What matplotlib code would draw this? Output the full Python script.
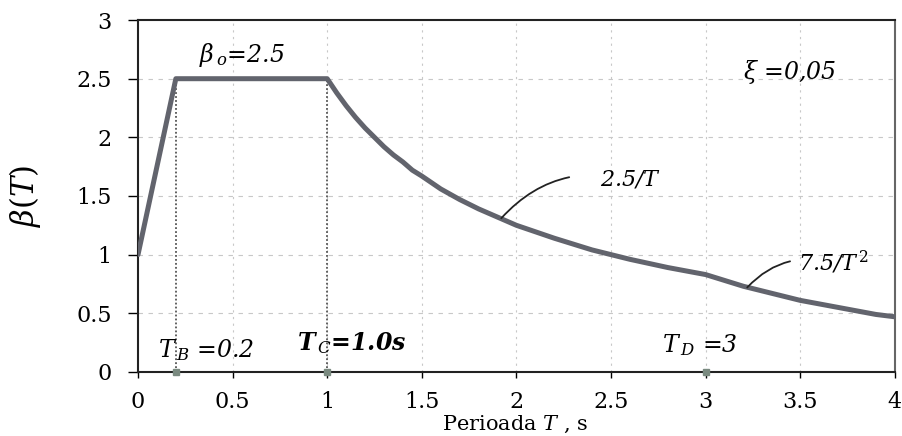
import matplotlib.pyplot as plt

plt.rcParams['font.family'] = ['DejaVu Serif']
plt.rcParams['mathtext.fontset'] = 'dejavuserif'

# spectrum points
period = [0.0, 0.2, 1.0, 1.05, 1.1, 1.15, 1.2, 1.25, 1.3, 1.35, 1.4, 1.45, 1.5,
          1.6, 1.7, 1.8, 1.9, 2.0, 2.2, 2.4, 2.6, 2.8, 3.0, 3.1, 3.2, 3.3,
          3.4, 3.5, 3.6, 3.7, 3.8, 3.9, 4.0]
beta = [1.0, 2.5, 2.5, 2.38, 2.27, 2.17, 2.08, 2.0, 1.92, 1.85, 1.79, 1.72, 1.67,
        1.56, 1.47, 1.39, 1.32, 1.25, 1.14, 1.04, 0.96, 0.89, 0.83, 0.78, 0.73,
        0.69, 0.65, 0.61, 0.58, 0.55, 0.52, 0.49, 0.47]
corner_T = [0.2, 1.0]
axis_marks = [0.2, 1.0, 3.0]
xticks = [0, 0.5, 1, 1.5, 2, 2.5, 3, 3.5, 4]
yticks = [0, 0.5, 1, 1.5, 2, 2.5, 3]

fig = plt.figure(figsize=(9.02, 4.36), dpi=100)
ax = fig.add_axes([0.153, 0.147, 0.839, 0.807])

for x in xticks[1:-1]:
    ax.axvline(x, color='#c8c8c8', lw=0.8, ls=(0, (2, 4)), zorder=1)
for y in yticks[1:-1]:
    ax.axhline(y, color='#c8c8c8', lw=0.8, ls=(0, (4, 5)), zorder=1)

ax.vlines(corner_T, 0, 2.5, colors='#555555', lw=1.3, ls=(0, (1, 1.2)), zorder=2)
ax.plot(period, beta, color='#62646d', lw=3.6, solid_capstyle='round',
        solid_joinstyle='round', zorder=3)
ax.plot(axis_marks, [0] * len(axis_marks), 's', ms=4, color='#7a8a80',
        clip_on=False, zorder=4)

ax.set_xlim(0, 4)
ax.set_ylim(0, 3)
ax.set_xticks(xticks)
ax.set_xticklabels(['0', '0.5', '1', '1.5', '2', '2.5', '3', '3.5', '4'])
ax.set_yticks(yticks)
ax.set_yticklabels(['0', '0.5', '1', '1.5', '2', '2.5', '3'])
ax.tick_params(axis='x', direction='out', length=4, pad=10, labelsize=16, width=1)
ax.tick_params(axis='y', direction='out', length=7, pad=12, labelsize=16, width=1)
for s in ax.spines.values():
    s.set_linewidth(1.5)
    s.set_color('#222222')
ax.spines['right'].set_color('#666666')

ax.set_ylabel(r'$\beta(T)$', fontsize=22)
ax.yaxis.set_label_coords(-0.125, 0.5)
fig.text(0.571, 0.002, r'Perioada $T$ , s', fontsize=15, ha='center', va='bottom')

ax.text(0.32, 2.70, r'$\beta$$_{\,o}$=2.5', fontsize=17, style='italic', va='center')
ax.text(3.2, 2.56, r'$\xi$ =0,05', fontsize=17, style='italic', va='center')
ax.text(0.106, 0.19, r'$T$$_{\,B}$ =0.2', fontsize=17, style='italic', va='center')
ax.text(0.84, 0.25, r'T$_{\,C}$=1.0s', fontsize=17, style='italic',
        weight='bold', va='center')
ax.text(2.77, 0.23, r'$T$$_{\,D}$ =3', fontsize=17, style='italic', va='center')

ax.annotate(r'2.5/$T$', xy=(1.92, 1.31), xytext=(2.44, 1.64), fontsize=16,
            style='italic', va='center', zorder=5,
            arrowprops=dict(arrowstyle='-', color='#222222', lw=1.3,
                            shrinkA=20, shrinkB=0,
                            connectionstyle='arc3,rad=0.3'))
ax.annotate(r'7.5/$T$$^{\,2}$', xy=(3.22, 0.72), xytext=(3.49, 0.93), fontsize=16,
            style='italic', va='center', zorder=5,
            arrowprops=dict(arrowstyle='-', color='#222222', lw=1.3,
                            shrinkA=4, shrinkB=0,
                            connectionstyle='arc3,rad=0.3'))

fig.savefig('out.png', dpi=100)
